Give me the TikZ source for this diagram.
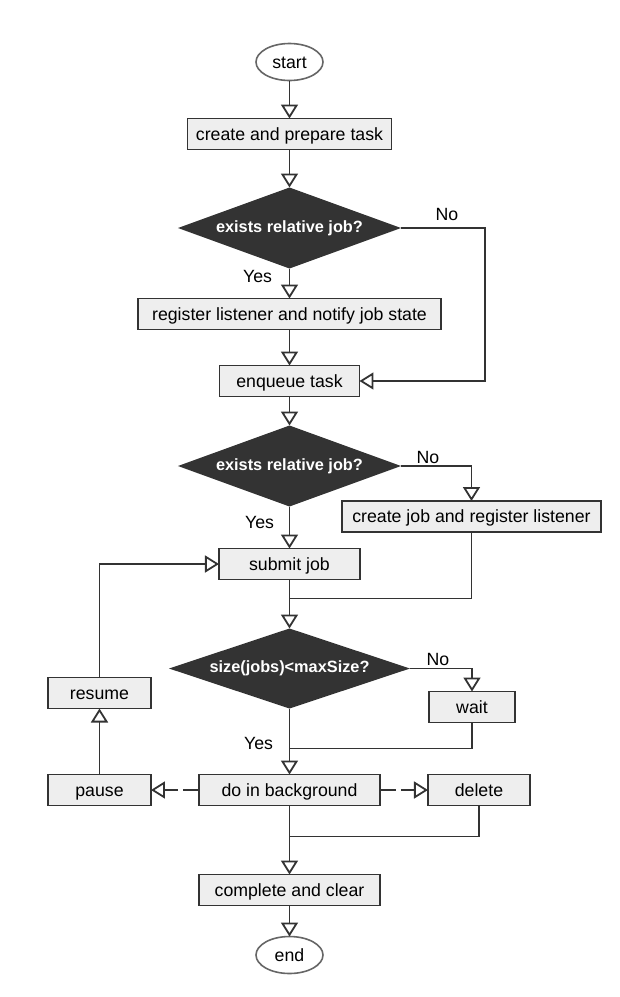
\documentclass[tikz,border=0pt]{standalone}
\usepackage{fontspec}
\setmainfont{Liberation Sans}
\usetikzlibrary{arrows.meta,positioning,shapes.geometric}
\definecolor{fline}{HTML}{333333}
\definecolor{ffill}{HTML}{EEEEEE}
\definecolor{fdark}{HTML}{333333}
\definecolor{fedge}{HTML}{666666}

\begin{document}
\begin{tikzpicture}[
  font=\fontsize{12.6}{15}\selectfont,
  t/.style={ellipse,draw=fedge,line width=0.4mm,minimum width=16.75mm,
            minimum height=9.25mm,inner sep=0pt,outer sep=0pt,
            text height=1em,text depth=0.1em},
  n/.style={draw=fline,fill=ffill,line width=0.45mm,minimum height=7.75mm,
            inner sep=0pt,outer sep=0pt,text height=1em,text depth=0.1em},
  q/.style={diamond,aspect=3,fill=fdark,text=white,inner sep=0pt,outer sep=0pt,
            font=\fontsize{11.6}{14}\selectfont\bfseries,
            minimum width=55.75mm,minimum height=20.25mm},
  a/.style={-{Triangle[open,length=3.5mm,width=4.25mm]},draw=fline,line width=0.45mm},
  l/.style={draw=fline,line width=0.45mm},
  d/.style={dash pattern=on 4mm off 1.25mm}
]
\useasboundingbox (-72.375mm,15.5mm) rectangle (82.625mm,-233.75mm);
\node[t] (start) {start};
\node[n,minimum width=51mm,below=9.5mm of start] (prep) {create and prepare task};
\node[q,below=9.5mm of prep] (chk1) {exists relative job?};
\node[n,minimum width=75.75mm,below=7.5mm of chk1] (reg) {register listener and notify job state};
\node[n,minimum width=35mm,below=9mm of reg] (enq) {enqueue task};
\node[q,below=7.25mm of enq] (chk2) {exists relative job?};
\node[n,minimum width=64.75mm,below=8.75mm of chk2.east,xshift=17.625mm]
  (mkjob) {create job and register listener};
\node[n,minimum width=35.25mm,below=10.5mm of chk2] (submit) {submit job};
\node[q,minimum width=60.25mm,minimum height=20mm,below=12.25mm of submit]
  (chk3) {size(jobs)<maxSize?};
\node[n,minimum width=21.5mm,below=5.75mm of chk3.east,xshift=15.5mm] (wait) {wait};
\node[n,minimum width=45.25mm,below=16.5mm of chk3] (run) {do in background};
\node[n,minimum width=25.75mm,left=12mm of run] (pause) {pause};
\node[n,minimum width=25.75mm,above=16.5mm of pause] (resume) {resume};
\node[n,minimum width=25.5mm,right=12mm of run] (del) {delete};
\node[n,minimum width=45.25mm,below=17.25mm of run] (done) {complete and clear};
\node[t,below=7.75mm of done] (end) {end};
% branch labels
\node (no1) at ([shift={(11.5mm,3.5mm)}]chk1.east) {No};
\node (yes1) at ([shift={(-8mm,-2mm)}]chk1.south) {Yes};
\node (no2) at ([shift={(6.75mm,2.25mm)}]chk2.east) {No};
\node (yes2) at ([shift={(-7.5mm,-4mm)}]chk2.south) {Yes};
\node (no3) at ([shift={(7mm,2.25mm)}]chk3.east) {No};
\node (yes3) at ([shift={(-7.75mm,-8.75mm)}]chk3.south) {Yes};
% bends and joins
\coordinate[right=21mm of chk1.east] (c1);
\coordinate[below=4.75mm of submit] (m1);
\coordinate[below=10mm of chk3] (m2);
\coordinate[below=7.75mm of run] (m3);
\draw[a] (start) -- (prep);
\draw[a] (prep) -- (chk1);
\draw[a] (chk1) -- (reg);
\draw[a] (reg) -- (enq);
\draw[a] (chk1.east) -- (c1) |- (enq.east);
\draw[a] (enq) -- (chk2);
\draw[a] (chk2) -- (submit);
\draw[a] (chk2.east) -| (mkjob.north);
\draw[l] (mkjob.south) |- (m1);
\draw[a] (submit) -- (chk3);
\draw[a] (chk3.east) -| (wait.north);
\draw[l] (wait.south) |- (m2);
\draw[a] (chk3) -- (run);
\draw[a,d] (run) -- (pause);
\draw[a,d] (run) -- (del);
\draw[a] (pause) -- (resume);
\draw[a] (resume.north) |- (submit.west);
\draw[l] (del.south) |- (m3);
\draw[a] (run) -- (done);
\draw[a] (done) -- (end);
\end{tikzpicture}
\end{document}
